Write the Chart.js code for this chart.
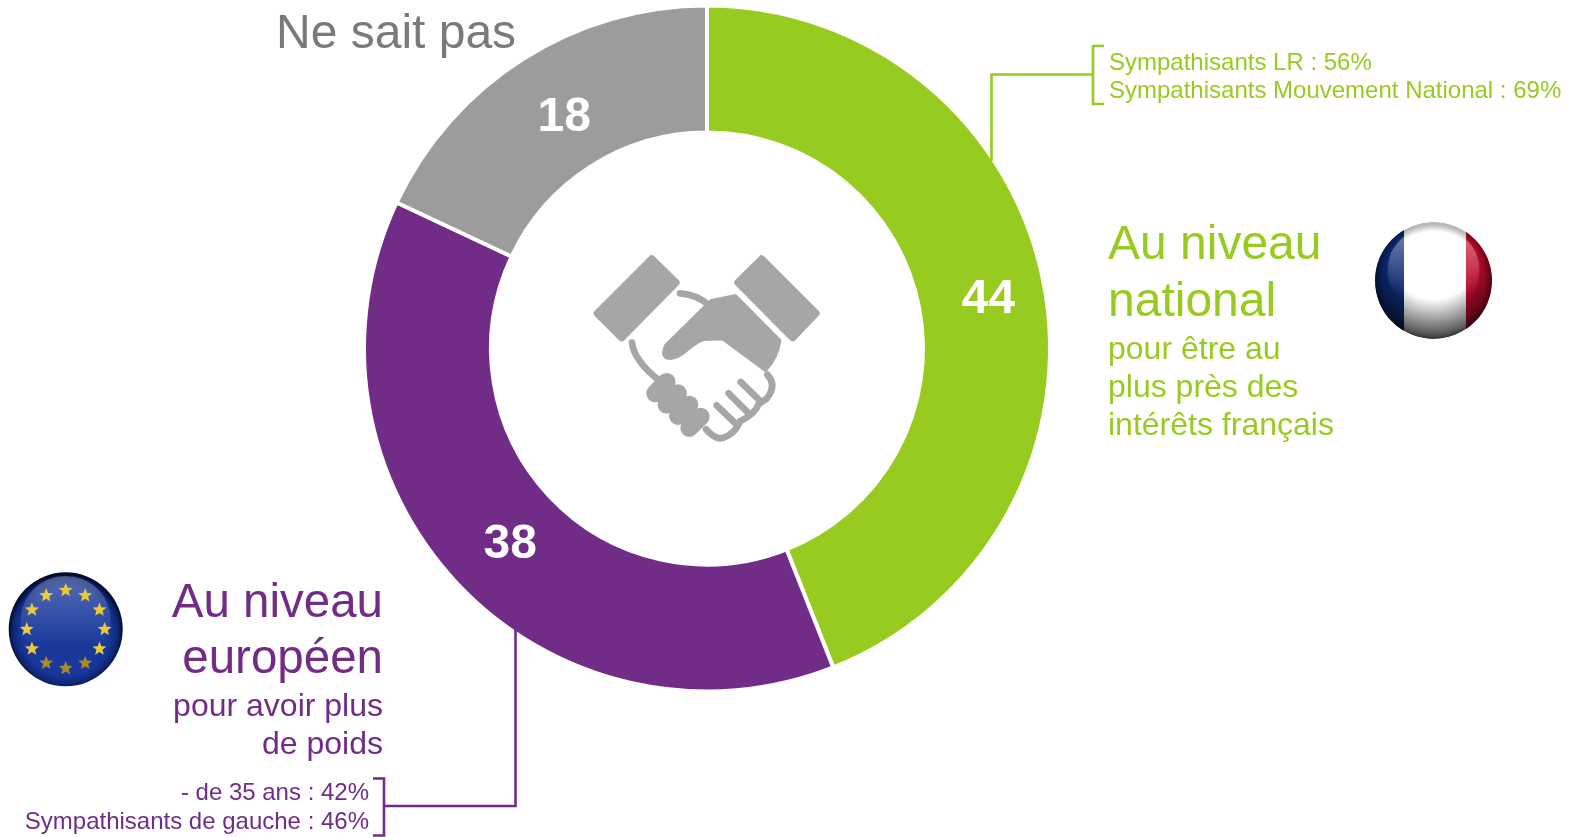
<!DOCTYPE html>
<html lang="fr">
<head>
<meta charset="utf-8">
<title>Au niveau national ou européen</title>
<script src="https://cdn.jsdelivr.net/npm/chart.js@4/dist/chart.umd.min.js"></script>
<style>
  html, body { margin: 0; padding: 0; background: #fff; overflow: hidden; }
  body { position: relative; width: 1579px; height: 837px; font-family: "Liberation Sans", Arial, sans-serif; }
  canvas, svg { position: absolute; left: 0; top: 0; }
  .txt { position: absolute; white-space: nowrap; line-height: 1; }
  .green { color: #97CB1F; }
  .purple { color: #702C87; }
</style>
</head>
<body>
<canvas id="donut" width="1579" height="837"></canvas>

<svg width="1579" height="837" viewBox="0 0 1579 837">
  <defs>
    <radialGradient id="shadeBottom" cx="50%" cy="30%" r="72%">
      <stop offset="0.5" stop-color="#000" stop-opacity="0"/>
      <stop offset="1" stop-color="#000" stop-opacity="0.8"/>
    </radialGradient>
    <radialGradient id="rim" cx="50%" cy="52%" r="50%">
      <stop offset="0.88" stop-color="#000" stop-opacity="0"/>
      <stop offset="1" stop-color="#000" stop-opacity="0.28"/>
    </radialGradient>
    <linearGradient id="gloss" x1="0" y1="0" x2="0" y2="1">
      <stop offset="0" stop-color="#fff" stop-opacity="0.45"/>
      <stop offset="0.8" stop-color="#fff" stop-opacity="0"/>
    </linearGradient>
    <radialGradient id="euBlue" cx="50%" cy="52%" r="50%">
      <stop offset="0" stop-color="#1a3a9a"/>
      <stop offset="0.78" stop-color="#17379a"/>
      <stop offset="0.92" stop-color="#0e2676"/>
      <stop offset="1" stop-color="#030c30"/>
    </radialGradient>
    <clipPath id="frClip"><circle cx="1433.5" cy="280.5" r="58.5"/></clipPath>
  </defs>

  <!-- connectors -->
  <g fill="none" stroke="#97CB1F" stroke-width="2.6">
    <path d="M991.5 161V74.5H1093"/>
    <path d="M1104 46H1093V104H1104"/>
  </g>
  <g fill="none" stroke="#702C87" stroke-width="2.6">
    <path d="M515.5 629V806H383"/>
    <path d="M373 778.5H384V835.5H373"/>
  </g>

  <!-- handshake -->
  <g transform="translate(570 230) scale(0.3333)">
    <g fill="#A6A6A6" stroke="#A6A6A6" stroke-width="22" stroke-linejoin="round">
      <path d="M245 87L318 158L155 323L82 250Z"/>
      <path d="M575 87L738 250L668 323L504 158Z"/>
    </g>
    <g fill="#A6A6A6" stroke="#A6A6A6" stroke-width="14" stroke-linejoin="round">
      <path d="M424 214L496 200L627 332Q620 382 586 418L458 324L400 326Q380 332 350 358Q316 388 292 382Q276 374 290 346Z"/>
    </g>
    <g fill="none" stroke="#A6A6A6" stroke-width="20" stroke-linecap="round">
      <path d="M330 190Q380 194 412 222"/>
      <path d="M186 338Q192 392 268 452"/>
      <path d="M592 434Q622 466 590 506L566 522Q556 552 510 574Q496 612 458 624Q436 630 408 598"/>
      <path d="M512 456L574 516"/>
      <path d="M476 490L534 548"/>
      <path d="M440 526L498 582"/>
    </g>
    <g fill="none" stroke="#A6A6A6" stroke-width="54" stroke-linecap="round">
      <path d="M256 490L290 456"/>
      <path d="M290 524L324 490"/>
      <path d="M324 558L358 524"/>
      <path d="M358 594L392 560"/>
    </g>
  </g>

  <!-- French flag -->
  <g clip-path="url(#frClip)">
    <rect x="1375" y="222" width="29" height="117" fill="#0b2a72"/>
    <rect x="1404" y="222" width="62" height="117" fill="#fff"/>
    <rect x="1466" y="222" width="29" height="117" fill="#bf0a2e"/>
    <ellipse cx="1433.5" cy="270" rx="46" ry="44" fill="url(#gloss)"/>
    <circle cx="1433.5" cy="280.5" r="58.5" fill="url(#shadeBottom)"/>
    <circle cx="1433.5" cy="280.5" r="58.5" fill="url(#rim)"/>
  </g>

  <!-- EU flag -->
  <circle cx="65.7" cy="629.3" r="57" fill="url(#euBlue)"/>
  <ellipse cx="65.7" cy="620" rx="45" ry="44" fill="url(#gloss)" opacity="0.6"/>
  <g id="euStars"></g>
</svg>

<div class="txt" style="left:276px;top:8px;font-size:48px;color:#7A7A7A">Ne sait pas</div>

<div class="txt green" style="left:1108px;top:219px;font-size:48px">Au niveau</div>
<div class="txt green" style="left:1108px;top:276px;font-size:48px">national</div>
<div class="txt green" style="left:1108px;top:332px;font-size:32px">pour être au</div>
<div class="txt green" style="left:1108px;top:370px;font-size:32px">plus près des</div>
<div class="txt green" style="left:1108px;top:408px;font-size:32px">intérêts français</div>

<div class="txt green" style="left:1109px;top:50px;font-size:24px">Sympathisants LR : 56%</div>
<div class="txt green" style="left:1109px;top:78px;font-size:24px">Sympathisants Mouvement National : 69%</div>

<div class="txt purple" style="right:1196px;top:577px;font-size:47.5px">Au niveau</div>
<div class="txt purple" style="right:1196px;top:633px;font-size:47.5px">européen</div>
<div class="txt purple" style="right:1196px;top:689px;font-size:32px">pour avoir plus</div>
<div class="txt purple" style="right:1196px;top:727px;font-size:32px">de poids</div>

<div class="txt purple" style="right:1210px;top:780px;font-size:24px">- de 35 ans : 42%</div>
<div class="txt purple" style="right:1210px;top:809px;font-size:24px">Sympathisants de gauche : 46%</div>

<script>
// Chart data
const categories = ['Au niveau national', 'Au niveau européen', 'Ne sait pas'];
const values = [44, 38, 18];
const sliceColors = ['#97CB1F', '#702C87', '#9C9C9C'];
const labelNudges = [[7, 2], [7, 3], [7, 3]];

// EU stars
const starsGroup = document.getElementById('euStars');
for (let i = 0; i < 12; i++) {
  const angle = i * Math.PI / 6;
  const cx = 65.7 + 39 * Math.sin(angle);
  const cy = 629.3 - 39 * Math.cos(angle);
  const pts = [];
  for (let k = 0; k < 10; k++) {
    const r = k % 2 ? 3.2 : 7.4;
    const a = k * Math.PI / 5;
    pts.push((cx + r * Math.sin(a)).toFixed(1) + ',' + (cy - r * Math.cos(a)).toFixed(1));
  }
  const star = document.createElementNS('http://www.w3.org/2000/svg', 'polygon');
  star.setAttribute('points', pts.join(' '));
  star.setAttribute('fill', cy > 650 ? '#A88C28' : '#EBC83C');
  starsGroup.appendChild(star);
}

// Values written on the ring
const sliceLabels = {
  id: 'sliceLabels',
  afterDatasetsDraw(chart) {
    const ctx = chart.ctx;
    ctx.save();
    ctx.fillStyle = '#fff';
    ctx.font = 'bold 48px "Liberation Sans", Arial, sans-serif';
    ctx.textAlign = 'center';
    ctx.textBaseline = 'middle';
    chart.getDatasetMeta(0).data.forEach((arc, i) => {
      const pos = arc.tooltipPosition();
      ctx.fillText(values[i], pos.x + labelNudges[i][0], pos.y + labelNudges[i][1] + 2);
    });
    ctx.restore();
  }
};

new Chart(document.getElementById('donut').getContext('2d'), {
  type: 'doughnut',
  data: {
    labels: categories,
    datasets: [{
      data: values,
      backgroundColor: sliceColors,
      borderColor: '#fff',
      borderWidth: 4,
      hoverOffset: 0
    }]
  },
  options: {
    responsive: false,
    animation: false,
    cutout: 216,
    layout: { padding: { left: 362, right: 527, top: 3, bottom: 143 } },
    plugins: {
      legend: { display: false },
      tooltip: { enabled: false }
    }
  },
  plugins: [sliceLabels]
});
</script>
</body>
</html>
